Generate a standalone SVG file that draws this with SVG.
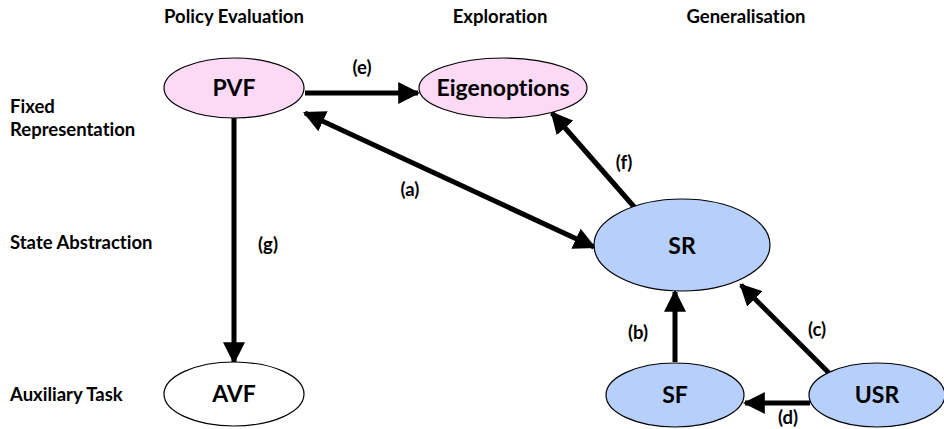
<svg xmlns="http://www.w3.org/2000/svg" width="944" height="429" viewBox="0 0 944 429">
<style>
text{font-family:"Lato","Open Sans",sans-serif;font-weight:bold;fill:#000;font-variant-ligatures:none}
.h{font-size:18.5px;text-anchor:middle}
.r{font-size:18.5px}
.n{font-size:23px;text-anchor:middle}
.l{font-size:18.5px;text-anchor:middle}
.pink{fill:#fcd9f5;stroke:#000;stroke-width:1.2}
.blue{fill:#b6cffb;stroke:#000;stroke-width:1.2}
.white{fill:#fff;stroke:#000;stroke-width:1.2}
.c line{stroke:#000;stroke-width:5}
</style>
<defs>
<marker id="ah" viewBox="0 0 10 10" refX="9" refY="5" markerWidth="4.4" markerHeight="4.4" orient="auto-start-reverse" markerUnits="strokeWidth">
<path d="M0,0 L10,5 L0,10 z" fill="#000"/>
</marker>
</defs>
<rect width="944" height="429" fill="#fff"/>
<text class="h" x="234" y="23">Policy Evaluation</text>
<text class="h" x="500" y="23">Exploration</text>
<text class="h" x="746" y="23">Generalisation</text>
<text class="r" x="10" y="113">Fixed</text>
<text class="r" x="10" y="136">Representation</text>
<text class="r" x="10" y="249">State Abstraction</text>
<text class="r" x="10" y="401">Auxiliary Task</text>
<g class="c" id="connectors">
<line x1="305" y1="93" x2="418" y2="93" marker-end="url(#ah)"/>
<line x1="305" y1="113" x2="594" y2="247" marker-start="url(#ah)" marker-end="url(#ah)"/>
<line x1="636" y1="209" x2="552" y2="113" marker-end="url(#ah)"/>
<line x1="234" y1="118" x2="234" y2="362" marker-end="url(#ah)"/>
<line x1="675" y1="362" x2="675" y2="292" marker-end="url(#ah)"/>
<line x1="829" y1="373" x2="741" y2="285" marker-end="url(#ah)"/>
<line x1="810" y1="403" x2="745" y2="403" marker-end="url(#ah)"/>
<text class="l" x="362" y="74">(e)</text>
<text class="l" x="410" y="196">(a)</text>
<text class="l" x="624" y="169">(f)</text>
<text class="l" x="268" y="251">(g)</text>
<text class="l" x="638" y="339">(b)</text>
<text class="l" x="817" y="336">(c)</text>
<text class="l" x="788" y="424">(d)</text>
</g>
<g id="PVF"><ellipse class="pink" cx="234" cy="88" rx="70" ry="30"/><text class="n" x="234" y="96">PVF</text></g>
<g id="Eigenoptions"><ellipse class="pink" cx="503" cy="88" rx="84" ry="30"/><text class="n" x="503" y="96">Eigenoptions</text></g>
<g id="SR"><ellipse class="blue" cx="682" cy="245" rx="88" ry="46"/><text class="n" x="682" y="254">SR</text></g>
<g id="SF"><ellipse class="blue" cx="675" cy="395" rx="69" ry="32"/><text class="n" x="675" y="403">SF</text></g>
<g id="USR"><ellipse class="blue" cx="877" cy="395" rx="68" ry="32"/><text class="n" x="877" y="403">USR</text></g>
<g id="AVF"><ellipse class="white" cx="234" cy="394" rx="70" ry="32"/><text class="n" x="234" y="402">AVF</text></g>
</svg>
